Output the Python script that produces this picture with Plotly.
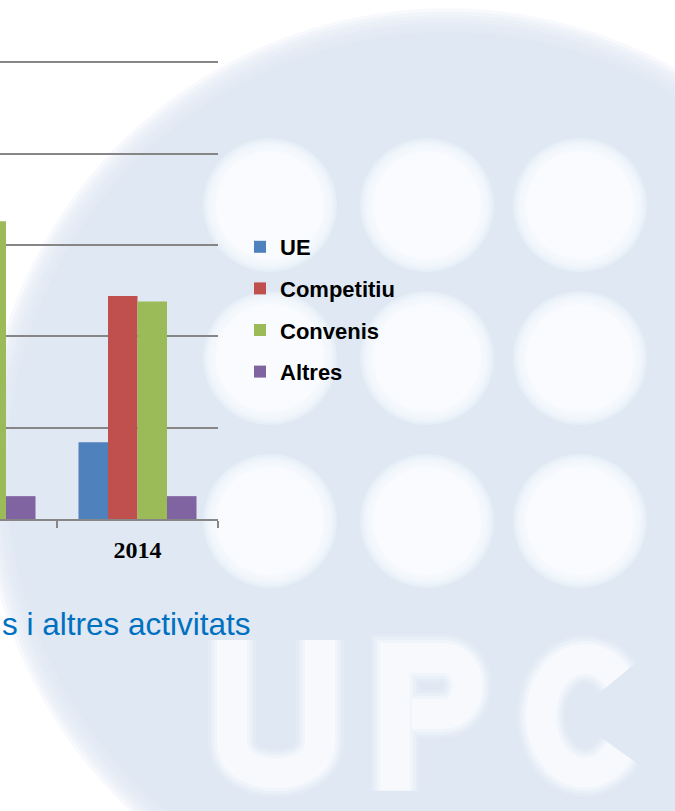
import math
import plotly.graph_objects as go

# ---------------- data ----------------
years = ["2013", "2014"]
series_names = ["UE", "Competitiu", "Convenis", "Altres"]
ue = [None, 4.2]
competitiu = [None, 12.2]
convenis = [16.3, 11.9]
altres = [1.25, 1.25]
series_values = [ue, competitiu, convenis, altres]
series_colors = ["#4f81bd", "#c0504d", "#9bbb59", "#8064a2"]
caption = "s i altres activitats"

# ---------------- geometry helpers (layout only) ----------------
W, H = 675, 811
YMAX = 26
PL, PR, PB = 0, 218, 519
PT = PB - (PB - 62) * YMAX / 25  # gridline 25 sits at y=62


def px(x):
    return (x - PL) / (PR - PL)


def py(y):
    return (PB - y) / (PB - PT)


def P(x, y):
    return f"{px(x):.5f},{py(y):.5f}"


BG_BLUE = "223,232,243"
WHITE = "249,251,254"
shapes = []


def disc(cx, cy, r, rgb, op):
    shapes.append(dict(type="circle", xref="paper", yref="paper", layer="below",
                       x0=px(cx - r), x1=px(cx + r), y0=py(cy + r), y1=py(cy - r),
                       fillcolor=f"rgba({rgb},{op})", line=dict(width=0)))


def soft_disc(cx, cy, r, rgb, blur, n=6, a=0.3):
    for i in range(n):
        disc(cx, cy, r + blur * (n - i) / n, rgb, a)
    disc(cx, cy, r, rgb, 1)


# big logo disc
soft_disc(447, 472, 440, BG_BLUE, 24, n=7, a=0.25)
# 3x3 white circles
for cy in (205, 358, 521):
    for cx in (270, 427, 580):
        soft_disc(cx, cy, 54, WHITE, 13, n=6, a=0.3)


def stroke_path(d, width, rgba):
    shapes.append(dict(type="path", xref="paper", yref="paper", layer="below",
                       path=d, fillcolor="rgba(0,0,0,0)",
                       line=dict(color=rgba, width=width)))


letter_U = f"M{P(232,640)} L{P(232,742)} C{P(232,784)} {P(320,784)} {P(320,742)} L{P(320,640)}"
letter_P = (f"M{P(395,791)} L{P(395,658)} L{P(442,658)} "
            f"C{P(476,658)} {P(476,714)} {P(442,714)} L{P(412,714)}")
c_pts = []
for k in range(0, 29):
    t = math.radians(42 + k * 10)
    c_pts.append(P(585 + 44 * math.cos(t), 716 - 57 * math.sin(t)))
letter_C = "M" + " L".join(c_pts)
letters = (letter_U, letter_P, letter_C)
for w, op in ((48, 0.2), (42, 0.3), (36, 0.45), (30, 0.7)):
    for d in letters:
        stroke_path(d, w, f"rgba({WHITE},{op})")

# ---------------- figure ----------------
fig = go.Figure()
for name, vals, col in zip(series_names, series_values, series_colors):
    fig.add_trace(go.Bar(name=name, x=years, y=vals, marker=dict(color=col, line=dict(width=0)),
                         legendgroup=name))

fig.update_layout(
    width=W, height=H,
    margin=dict(l=PL, r=W - PR, t=PT, b=H - PB, autoexpand=False),
    paper_bgcolor="white",
    plot_bgcolor="rgba(0,0,0,0)",
    barmode="group",
    bargap=0.267,
    bargroupgap=0,
    shapes=shapes,
    showlegend=True,
    legend=dict(
        xref="container", yref="container",
        x=240 / W, y=1 - 226 / H, xanchor="left", yanchor="top",
        bgcolor="rgba(0,0,0,0)",
        font=dict(family="Liberation Sans Narrow, Liberation Sans, Arial, sans-serif",
                  size=22, color="black", weight="bold"),
        tracegroupgap=10,
        itemwidth=30,
    ),
    xaxis=dict(
        type="category",
        range=[0.5 - 57 / 161, 1.5],
        showgrid=False,
        showline=True, linecolor="#868686", linewidth=1.5,
        ticks="outside", tickson="boundaries", ticklen=7, tickcolor="#868686", tickwidth=1.5,
        ticklabelstandoff=8,
        tickfont=dict(family="Liberation Serif, Times New Roman, serif", size=24,
                      color="black", weight="bold"),
        zeroline=False,
    ),
    yaxis=dict(
        range=[0, YMAX], dtick=5,
        showgrid=True, gridcolor="#868686", gridwidth=1.5,
        showticklabels=False, showline=False, zeroline=False, ticks="",
    ),
    annotations=[dict(
        text=caption, xref="paper", yref="paper",
        x=px(0), y=py(624), xanchor="left", yanchor="middle", showarrow=False,
        font=dict(family="Liberation Sans, Arial, sans-serif", size=31.5, color="#0070c0"),
    )],
)

fig.write_html("out.html", config={"displayModeBar": False},
               post_script="document.body.style.margin='0';")
